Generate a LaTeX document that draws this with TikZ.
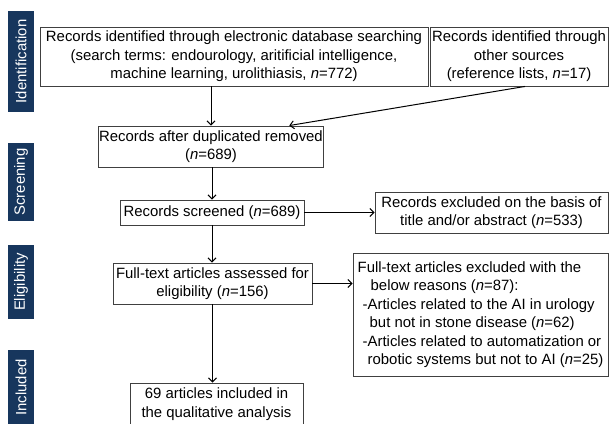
\documentclass[tikz,border=0pt]{standalone}
\usepackage{fontspec}
\setmainfont{Liberation Sans}
\usetikzlibrary{arrows.meta,calc}
\definecolor{navy}{RGB}{23,54,93}
\begin{document}
\begin{tikzpicture}[x=1pt,y=-1pt,
  font=\fontsize{14.9}{18.5}\selectfont,
  box/.style={draw=black!75, line width=0.9pt, align=center, inner sep=1pt},
  side/.style={fill=navy, text=white, rotate=90, minimum height=26pt, inner sep=0pt},
  arr/.style={-{Straight Barb[length=4pt,width=8pt]}, line width=1pt}]
\useasboundingbox (0,0) rectangle (609,423);
\clip (0,0) rectangle (609,423);
\fill[white] (0,0) rectangle (609,423);

% side labels
\node[side, minimum width=101pt] (s1) at (21,61.5) {Identification};
\node[side, minimum width=78pt] (s2) at (21,182) {Screening};
\node[side, minimum width=74pt] (s3) at (21,282) {Eligibility};
\node[side, minimum width=75pt] (s4) at (21,387.5) {Included};

% boxes
\node[box, minimum width=388pt, minimum height=59pt] (b1) at (234,56.5)
  {Records identified through electronic database searching\\(search terms: endourology, aritificial intelligence,\\machine learning, urolithiasis, \textit{n}=772)};
\node[box, minimum width=178pt, minimum height=59pt] (b2) at (519,56.5)
  {Records identified through\\other sources\\(reference lists, \textit{n}=17)};
\node[box, minimum width=224pt, minimum height=41pt] (b3) at (211,146.5)
  {Records after duplicated removed\\(\textit{n}=689)};
\node[box, minimum width=184pt, minimum height=25pt] (b4) at (212,212.5)
  {Records screened (\textit{n}=689)};
\node[box, minimum width=233pt, minimum height=41pt] (b5) at (491.5,212.5)
  {Records excluded on the basis of\\title and/or abstract (\textit{n}=533)};
\node[box, minimum width=199pt, minimum height=41pt] (b6) at (212.5,283.5)
  {Full-text articles assessed for\\eligibility (\textit{n}=156)};
\node[box, align=left, minimum width=255pt, minimum height=123pt] (b7) at (480.5,314.5)
  {Full-text articles excluded with the\\
   \hspace*{13pt}below reasons (\textit{n}=87):\\
   \hspace*{5pt}-Articles related to the AI in urology\\
   \hspace*{12pt}but not in stone disease (\textit{n}=62)\\
   \hspace*{5pt}-Articles related to automatization or\\
   \hspace*{10pt}robotic systems but not to AI (\textit{n}=25)};
\node[box, minimum width=173pt, minimum height=42pt] (b8) at (216.5,404)
  {69 articles included in\\the qualitative analysis};

% connectors
\draw[arr] (b3.north |- b1.south) -- (b3.north);
\draw[arr] ([xshift=6pt]b2.south) -- ([xshift=-35pt]b3.north east);
\draw[arr] (b4.north |- b3.south) -- (b4.north);
\draw[arr] (b4.east) -- (b5.west);
\draw[arr] (b4.south) -- (b4.south |- b6.north);
\draw[arr] (b6.east) -- (b6.east -| b7.west);
\draw[arr] (b6.south) -- (b6.south |- b8.north);
\end{tikzpicture}
\end{document}
